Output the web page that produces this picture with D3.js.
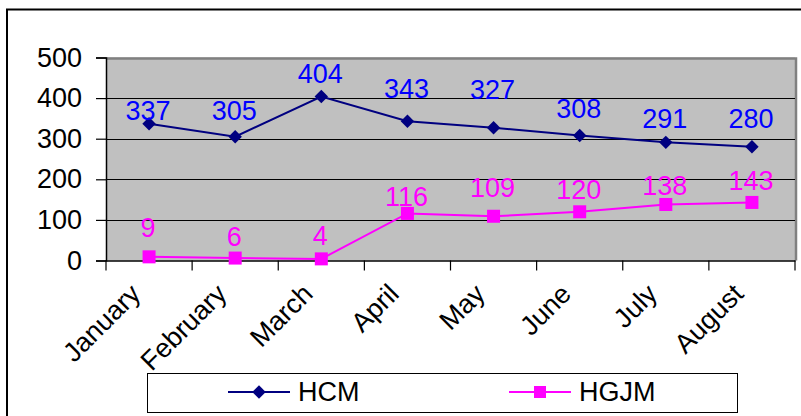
<!DOCTYPE html>
<html>
<head>
<meta charset="utf-8">
<script src="https://cdn.jsdelivr.net/npm/d3@7"></script>
<style>
  html, body { margin: 0; padding: 0; background: #fff; }
  svg { display: block; }
  text { font-family: "Liberation Sans", Arial, sans-serif; }
</style>
</head>
<body>
<svg id="chart" width="801" height="416"></svg>
<script>
// Monthly counts for the two series
const months = ["January", "February", "March", "April", "May", "June", "July", "August"];
const hcm  = [337, 305, 404, 343, 327, 308, 291, 280];
const hgjm = [9, 6, 4, 116, 109, 120, 138, 143];
const yTicks = [0, 100, 200, 300, 400, 500];

// How far (px) each value label sits above its marker
const hcmLabelLift  = [4, 17, 13, 23, 29, 17, 14, 19];
const hgjmLabelLift = [20, 12, 14, 7, 19, 13, 9, 12];

const plot = { left: 106, right: 795, top: 57.5, bottom: 260.5 };
const font = 27;

const svg = d3.select("#chart");

// outer frame
svg.append("rect")
  .attr("x", 7).attr("y", 9.5)
  .attr("width", 800).attr("height", 420)
  .attr("fill", "#fff").attr("stroke", "#000").attr("stroke-width", 2);

const x = d3.scaleBand().domain(months).range([plot.left, plot.right]).padding(0);
const y = d3.scaleLinear().domain([0, 500]).range([plot.bottom, plot.top]);
const cx = d => x(d) + x.bandwidth() / 2;

// plot area
svg.append("rect")
  .attr("x", plot.left).attr("y", plot.top)
  .attr("width", plot.right - plot.left).attr("height", plot.bottom - plot.top)
  .attr("fill", "#c0c0c0");
// grey border on top and right
svg.append("path")
  .attr("d", `M${plot.left},${plot.top + 1}H${plot.right + 1}V${plot.bottom}`)
  .attr("fill", "none").attr("stroke", "#808080").attr("stroke-width", 2.5);

// horizontal gridlines
svg.append("g").selectAll("line")
  .data(yTicks.filter(v => v > 0 && v < 500))
  .join("line")
  .attr("x1", plot.left).attr("x2", plot.right)
  .attr("y1", d => Math.round(y(d)) + 0.5).attr("y2", d => Math.round(y(d)) + 0.5)
  .attr("stroke", "#000").attr("stroke-width", 1);

// y axis
const yAxis = svg.append("g")
  .attr("transform", `translate(${plot.left},0)`)
  .call(d3.axisLeft(y).tickValues(yTicks).tickSize(10).tickPadding(14).tickFormat(d3.format("d")));
yAxis.select(".domain").attr("stroke", "#000").attr("stroke-width", 1.5);
yAxis.selectAll(".tick line").attr("stroke", "#000").attr("stroke-width", 1.2);
yAxis.selectAll(".tick text")
  .attr("font-size", font).attr("fill", "#000")
  .attr("font-family", "Liberation Sans, Arial, sans-serif");

// x axis with ticks on category boundaries
const xAxis = svg.append("g")
  .attr("transform", `translate(0,${plot.bottom})`)
  .call(d3.axisBottom(x).tickSize(0).tickFormat(""));
xAxis.select(".domain").attr("stroke", "#000").attr("stroke-width", 1.5);
const bounds = months.map(m => x(m)).concat([x(months[months.length - 1]) + x.bandwidth()]);
xAxis.selectAll("line.bound")
  .data(bounds).join("line").attr("class", "bound")
  .attr("x1", d => d).attr("x2", d => d)
  .attr("y1", 0).attr("y2", 10)
  .attr("stroke", "#000").attr("stroke-width", 1.2);

// rotated month labels
svg.append("g").selectAll("text")
  .data(months).join("text")
  .attr("transform", d => `translate(${cx(d) - 7},${plot.bottom + 35}) rotate(-45)`)
  .attr("text-anchor", "end")
  .attr("font-size", font).attr("fill", "#000")
  .text(d => d);

const line = d3.line().x((d, i) => cx(months[i])).y(d => y(d));

// HCM series
const cHcm = "#000080", cHcmLbl = "#0000ff";
svg.append("path").datum(hcm)
  .attr("d", line).attr("fill", "none").attr("stroke", cHcm).attr("stroke-width", 2);
svg.append("g").selectAll("path")
  .data(hcm).join("path")
  .attr("d", d3.symbol(d3.symbolDiamond2 || d3.symbolDiamond, 115))
  .attr("transform", (d, i) => `translate(${cx(months[i])},${y(d)})`)
  .attr("fill", cHcm);
svg.append("g").selectAll("text")
  .data(hcm).join("text")
  .attr("x", (d, i) => cx(months[i]) - 1)
  .attr("y", (d, i) => y(d) - hcmLabelLift[i])
  .attr("text-anchor", "middle")
  .attr("font-size", font).attr("fill", cHcmLbl)
  .text(d => d);

// HGJM series
const cHg = "#ff00ff";
svg.append("path").datum(hgjm)
  .attr("d", line).attr("fill", "none").attr("stroke", cHg).attr("stroke-width", 2);
svg.append("g").selectAll("rect")
  .data(hgjm).join("rect")
  .attr("x", (d, i) => cx(months[i]) - 6.5)
  .attr("y", d => y(d) - 6.5)
  .attr("width", 13).attr("height", 13)
  .attr("fill", cHg);
svg.append("g").selectAll("text")
  .data(hgjm).join("text")
  .attr("x", (d, i) => cx(months[i]) - 1)
  .attr("y", (d, i) => y(d) - hgjmLabelLift[i])
  .attr("text-anchor", "middle")
  .attr("font-size", font).attr("fill", cHg)
  .text(d => d);

// legend
const lg = svg.append("g");
lg.append("rect")
  .attr("x", 147.5).attr("y", 373.5).attr("width", 590).attr("height", 39)
  .attr("fill", "#fff").attr("stroke", "#000").attr("stroke-width", 1);
const legendItems = [
  { name: "HCM", color: cHcm, x0: 228, shape: "diamond" },
  { name: "HGJM", color: cHg, x0: 509, shape: "square" }
];
const ly = 392;
legendItems.forEach(it => {
  lg.append("line")
    .attr("x1", it.x0).attr("x2", it.x0 + 62)
    .attr("y1", ly).attr("y2", ly)
    .attr("stroke", it.color).attr("stroke-width", 2);
  if (it.shape === "diamond") {
    lg.append("path")
      .attr("d", d3.symbol(d3.symbolDiamond2 || d3.symbolDiamond, 115))
      .attr("transform", `translate(${it.x0 + 31},${ly})`)
      .attr("fill", it.color);
  } else {
    lg.append("rect")
      .attr("x", it.x0 + 31 - 6).attr("y", ly - 6)
      .attr("width", 12).attr("height", 12)
      .attr("fill", it.color);
  }
  lg.append("text")
    .attr("x", it.x0 + 70).attr("y", ly + 9)
    .attr("font-size", font).attr("fill", "#000")
    .text(it.name);
});
</script>
</body>
</html>
